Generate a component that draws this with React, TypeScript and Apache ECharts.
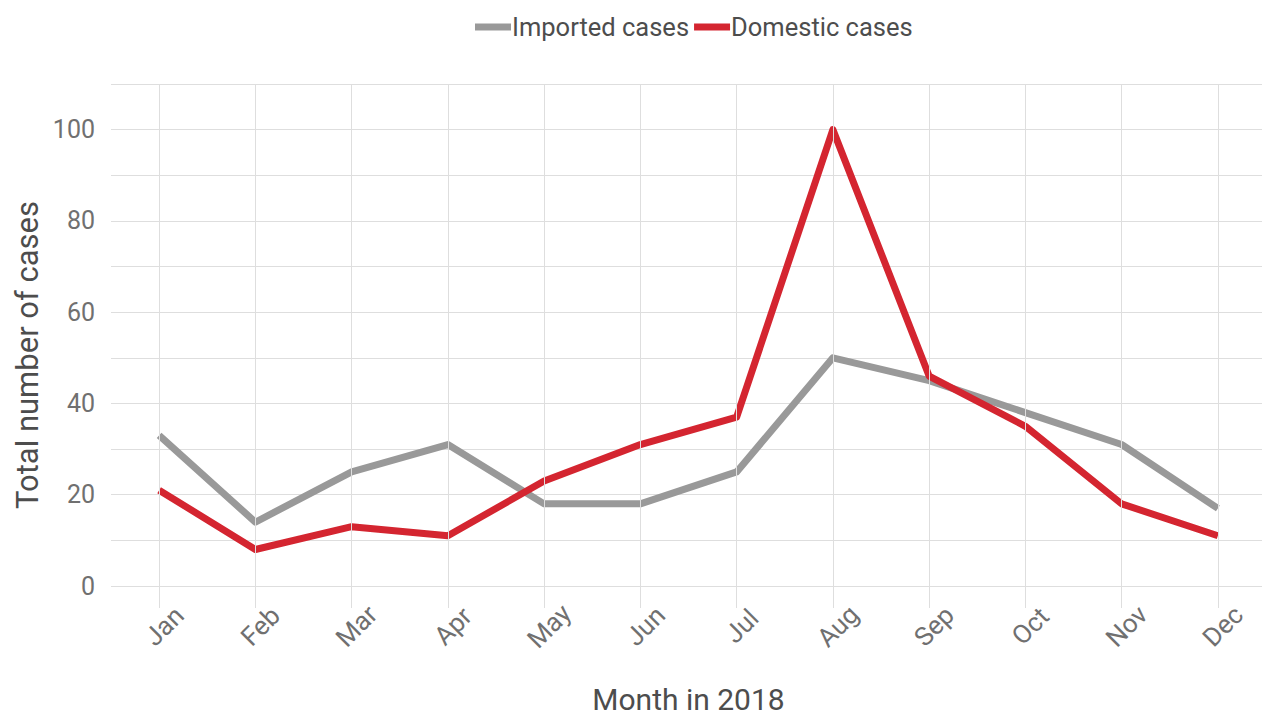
import React, { useEffect, useRef } from "react";
import * as echarts from "echarts";

const months = ["Jan", "Feb", "Mar", "Apr", "May", "Jun", "Jul", "Aug", "Sep", "Oct", "Nov", "Dec"];
const importedCases = [33, 14, 25, 31, 18, 18, 25, 50, 45, 38, 31, 17];
const domesticCases = [21, 8, 13, 11, 23, 31, 37, 100, 46, 35, 18, 11];
const seriesNames = ["Imported cases", "Domestic cases"];
const xTitle = "Month in 2018";
const yTitle = "Total number of cases";

const FONT = "Roboto, 'Liberation Sans', sans-serif";
const GRID = "#dedede";

export default function App() {
  const ref = useRef<HTMLDivElement>(null);
  useEffect(() => {
    document.body.style.margin = "0";
    const chart = echarts.init(ref.current!, null, { renderer: "svg" });
    chart.setOption({
      animation: false,
      backgroundColor: "#ffffff",
      textStyle: { fontFamily: FONT },
      legend: {
        data: seriesNames,
        top: 9,
        left: 470,
        icon: "rect",
        itemWidth: 36,
        itemHeight: 7,
        itemGap: 5,
        textStyle: { fontFamily: FONT, fontSize: 25.5, color: "#4d4d4d", padding: [0, 0, 0, -4] },
      },
      grid: { left: 111, right: -4, top: 84, bottom: 129, containLabel: false, outerBoundsMode: "none" },
      xAxis: {
        type: "category",
        data: months,
        boundaryGap: true,
        axisLine: { show: false },
        axisTick: { show: true, alignWithLabel: true, length: 22, lineStyle: { color: GRID, width: 1 } },
        splitLine: { show: false },
        axisLabel: {
          interval: 0,
          rotate: 45,
          align: "center",
          verticalAlign: "middle",
          margin: 45,
          padding: [14, 0, 0, 14],
          fontFamily: FONT,
          fontSize: 26,
          color: "#707070",
        },
        name: xTitle,
        nameLocation: "middle",
        nameGap: 98,
        nameTextStyle: { fontFamily: FONT, fontSize: 30, color: "#4d4d4d" },
      },
      yAxis: {
        type: "value",
        min: 0,
        max: 110,
        interval: 10,
        axisLine: { show: false },
        axisTick: { show: false },
        splitLine: { show: true, lineStyle: { color: GRID, width: 1 } },
        axisLabel: {
          margin: 16,
          fontFamily: FONT,
          fontSize: 25,
          color: "#707070",
          formatter: (v: number) => (v % 20 === 0 && v <= 100 ? String(v) : ""),
        },
      },
      graphic: [
        {
          type: "text",
          x: 27,
          y: 355,
          rotation: Math.PI / 2,
          style: {
            text: yTitle,
            fontFamily: FONT,
            fontSize: 31,
            fill: "#4d4d4d",
            textAlign: "center",
            textVerticalAlign: "middle",
          },
        },
      ],
      series: [
        {
          type: "line",
          name: "grid-x",
          data: [],
          z: 1,
          silent: true,
          markLine: {
            silent: true,
            symbol: "none",
            label: { show: false },
            lineStyle: { color: GRID, width: 1, type: "solid" },
            data: months.map((m) => ({ xAxis: m })),
          },
        },
        {
          type: "line",
          name: seriesNames[0],
          data: importedCases,
          showSymbol: false,
          symbol: "none",
          z: 3,
          color: "#999999",
          lineStyle: { color: "#999999", width: 7, join: "round", cap: "butt" },
        },
        {
          type: "line",
          name: seriesNames[1],
          data: domesticCases,
          showSymbol: false,
          symbol: "none",
          z: 4,
          color: "#d42530",
          lineStyle: { color: "#d42530", width: 7, join: "round", cap: "butt" },
        },
      ],
    });
    return () => chart.dispose();
  }, []);
  return <div ref={ref} style={{ width: 1262, height: 715 }} />;
}
